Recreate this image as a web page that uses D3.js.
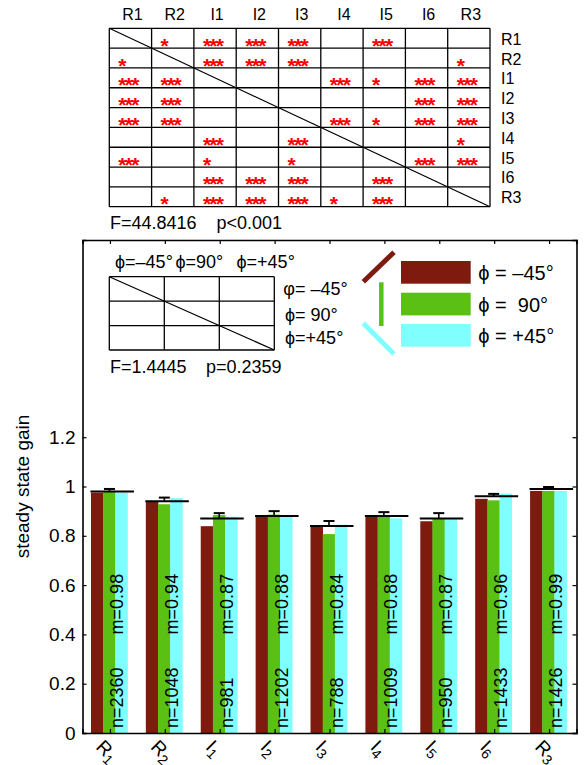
<!DOCTYPE html>
<html>
<head>
<meta charset="utf-8">
<script src="https://cdn.jsdelivr.net/npm/d3@7"></script>
<style>
  body { margin: 0; background: #fff; }
  text { font-family: "Liberation Sans", Arial, sans-serif; fill: #000; }
</style>
</head>
<body>
<script>
// categories (first letter + subscript digit)
const categories = ["R1", "R2", "I1", "I2", "I3", "I4", "I5", "I6", "R3"];

// bar heights for each phi
const phiNeg45 = [0.975, 0.94, 0.839, 0.88, 0.842, 0.877, 0.859, 0.95, 0.982];
const phi90 = [0.98, 0.928, 0.884, 0.886, 0.807, 0.877, 0.868, 0.944, 0.982];
const phiPos45 = [0.975, 0.953, 0.877, 0.877, 0.845, 0.871, 0.868, 0.971, 0.982];

// overall means, upper error ends and counts
const means = [0.98, 0.94, 0.87, 0.88, 0.84, 0.88, 0.87, 0.96, 0.99];
const errTop = [0.99, 0.955, 0.892, 0.90, 0.86, 0.896, 0.892, 0.97, 0.998];
const counts = [2360, 1048, 981, 1202, 788, 1009, 950, 1433, 1426];

const yTicks = [0, 0.2, 0.4, 0.6, 0.8, 1, 1.2];

// significance table: 0 = none, 1 = "*", 3 = "***"
const sig = [
  [0, 1, 3, 3, 3, 0, 3, 0, 0],
  [1, 0, 3, 3, 3, 0, 0, 0, 1],
  [3, 3, 0, 0, 0, 3, 1, 3, 3],
  [3, 3, 0, 0, 0, 0, 0, 3, 3],
  [3, 3, 0, 0, 0, 3, 1, 3, 3],
  [0, 0, 3, 0, 3, 0, 0, 0, 1],
  [3, 0, 1, 0, 1, 0, 0, 3, 3],
  [0, 0, 3, 3, 3, 0, 3, 0, 0],
  [0, 1, 3, 3, 3, 1, 3, 0, 0]
];
const anovaMain = ["F=44.8416", "p<0.001"];
const anovaPhi = ["F=1.4445", "p=0.2359"];

const phiHeads = ["\u03d5=\u201345\u00b0", "\u03d5=90\u00b0", "\u03d5=+45\u00b0"];
const phiRows = ["\u03c6= \u201345\u00b0", "\u03d5= 90\u00b0", "\u03d5=+45\u00b0"];
const legendLabels = ["\u03d5 = \u201345\u00b0", "\u03d5 =  90\u00b0", "\u03d5 = +45\u00b0"];
const colors = ["#7f1a0e", "#5ac114", "#80ffff"];

const svg = d3.select("body")
  .append("svg")
  .attr("width", 584)
  .attr("height", 765);

// ---- top significance table ----
const tx = d3.scaleBand().domain(d3.range(9)).range([109.3, 490]);
const ty = d3.scaleBand().domain(d3.range(9)).range([28.3, 206.7]);
const tab = svg.append("g");

tab.selectAll("line.v")
  .data(d3.range(10))
  .enter()
  .append("line")
  .attr("x1", d => 109.3 + d * tx.bandwidth())
  .attr("x2", d => 109.3 + d * tx.bandwidth())
  .attr("y1", 28.3).attr("y2", 206.7)
  .attr("stroke", "#000").attr("stroke-width", 1.3);
tab.selectAll("line.h")
  .data(d3.range(10))
  .enter()
  .append("line")
  .attr("y1", d => 28.3 + d * ty.bandwidth())
  .attr("y2", d => 28.3 + d * ty.bandwidth())
  .attr("x1", 109.3).attr("x2", 490)
  .attr("stroke", "#000").attr("stroke-width", 1.3);
tab.append("line")
  .attr("x1", 109.3).attr("y1", 28.3).attr("x2", 490).attr("y2", 206.7)
  .attr("stroke", "#000").attr("stroke-width", 1.2);

tab.selectAll("text.col")
  .data(categories)
  .enter()
  .append("text")
  .attr("x", (d, i) => tx(i) + tx.bandwidth() / 2 + 2)
  .attr("y", 20)
  .attr("text-anchor", "middle")
  .attr("font-size", 16)
  .text(d => d);
tab.selectAll("text.row")
  .data(categories)
  .enter()
  .append("text")
  .attr("x", 501)
  .attr("y", (d, i) => ty(i) + ty.bandwidth() / 2 + 6.5)
  .attr("font-size", 16)
  .text(d => d);

const cells = [];
sig.forEach((row, r) => row.forEach((v, c) => { if (v) cells.push({ r, c, v }); }));
tab.selectAll("text.star")
  .data(cells)
  .enter()
  .append("text")
  .attr("x", d => tx(d.c) + 9)
  .attr("y", d => ty(d.r) + ty.bandwidth() / 2 + 14.5)
  .attr("font-family", "DejaVu Sans")
  .attr("font-weight", "bold")
  .attr("font-size", 21)
  .attr("letter-spacing", -1.7)
  .style("fill", "#f00")
  .text(d => "*".repeat(d.v));

svg.append("text").attr("x", 110).attr("y", 229).attr("font-size", 18).text(anovaMain[0]);
svg.append("text").attr("x", 216.5).attr("y", 229).attr("font-size", 18).text(anovaMain[1]);

// ---- main bar chart ----
const x = d3.scaleLinear().domain([0.5, 9.5]).range([82.5, 576.5]);
const y = d3.scaleLinear().domain([0, 2]).range([733, 240]);
const step = x(2) - x(1);
const barW = step * 0.222;
const series = [phiNeg45, phi90, phiPos45];

const bars = svg.append("g");
series.forEach((vals, s) => {
  bars.selectAll("rect.s" + s)
    .data(vals)
    .enter()
    .append("rect")
    .attr("x", (d, i) => x(i + 1) - 1.5 * barW - 0.7 + s * barW)
    .attr("y", d => y(d))
    .attr("width", barW + 0.3)
    .attr("height", d => y(0) - y(d))
    .attr("fill", colors[s]);
});

// mean lines and error bars
bars.selectAll("line.mean")
  .data(means)
  .enter()
  .append("line")
  .attr("x1", (d, i) => x(i + 1) - 19.5)
  .attr("x2", (d, i) => x(i + 1) + 24)
  .attr("y1", d => y(d)).attr("y2", d => y(d))
  .attr("stroke", "#000").attr("stroke-width", 2);
bars.selectAll("line.err")
  .data(errTop)
  .enter()
  .append("line")
  .attr("x1", (d, i) => x(i + 1) - 0.5)
  .attr("x2", (d, i) => x(i + 1) - 0.5)
  .attr("y1", (d, i) => y(means[i]))
  .attr("y2", d => y(d))
  .attr("stroke", "#000").attr("stroke-width", 1.6);
bars.selectAll("line.cap")
  .data(errTop)
  .enter()
  .append("line")
  .attr("x1", (d, i) => x(i + 1) - 6)
  .attr("x2", (d, i) => x(i + 1) + 5)
  .attr("y1", d => y(d)).attr("y2", d => y(d))
  .attr("stroke", "#000").attr("stroke-width", 2);

// labels inside bars
bars.selectAll("text.m")
  .data(means)
  .enter()
  .append("text")
  .attr("transform", (d, i) => `translate(${x(i + 1) + 13},${y(0.4)}) rotate(-90)`)
  .attr("font-size", 18)
  .text(d => "m=" + d.toFixed(2));
bars.selectAll("text.n")
  .data(counts)
  .enter()
  .append("text")
  .attr("transform", (d, i) => `translate(${x(i + 1) + 13},${y(0.02)}) rotate(-90)`)
  .attr("font-size", 18)
  .text(d => "n=" + d);

// axes
const tickFmt = d3.format("~g");
svg.append("g")
  .attr("transform", "translate(82.5,0)")
  .call(d3.axisLeft(y).tickValues(yTicks).tickSize(-4).tickPadding(7).tickFormat(tickFmt))
  .call(g => g.selectAll("text").attr("font-size", 19).attr("font-family", "Liberation Sans").style("fill", "#000"));
svg.append("g")
  .attr("transform", "translate(576.5,0)")
  .call(d3.axisRight(y).tickValues(yTicks).tickSize(-4).tickFormat(""));
svg.append("g")
  .attr("transform", "translate(0,240)")
  .call(d3.axisTop(x).tickValues(d3.range(1, 10)).tickSize(-4).tickFormat(""));
svg.append("g")
  .attr("transform", "translate(0,733)")
  .call(d3.axisBottom(x).tickValues(d3.range(1, 10)).tickSize(-4).tickFormat(""));
svg.selectAll(".domain").attr("stroke-width", 1.6);
svg.selectAll(".tick line").attr("stroke-width", 1.2);

// rotated category labels with subscripts
const xl = svg.selectAll("text.xl")
  .data(categories)
  .enter()
  .append("text")
  .attr("transform", (d, i) => `translate(${x(i + 1) - 15},748) rotate(45)`)
  .attr("font-size", 19);
xl.append("tspan").text(d => d[0]);
xl.append("tspan").attr("font-size", 14).attr("dy", 4).text(d => d.slice(1));

svg.append("text")
  .attr("transform", `translate(29,${y(1)}) rotate(-90)`)
  .attr("text-anchor", "middle")
  .attr("font-size", 19)
  .text("steady state gain");

// ---- phi comparison table inside the plot ----
const px = d3.scaleBand().domain(d3.range(3)).range([109.3, 274.3]);
const py = d3.scaleBand().domain(d3.range(3)).range([276.7, 350]);
const ptab = svg.append("g");
ptab.selectAll("line.v")
  .data(d3.range(4))
  .enter()
  .append("line")
  .attr("x1", d => 109.3 + d * px.bandwidth())
  .attr("x2", d => 109.3 + d * px.bandwidth())
  .attr("y1", 276.7).attr("y2", 350)
  .attr("stroke", "#000").attr("stroke-width", 1.3);
ptab.selectAll("line.h")
  .data(d3.range(4))
  .enter()
  .append("line")
  .attr("y1", d => 276.7 + d * py.bandwidth())
  .attr("y2", d => 276.7 + d * py.bandwidth())
  .attr("x1", 109.3).attr("x2", 274.3)
  .attr("stroke", "#000").attr("stroke-width", 1.3);
ptab.append("line")
  .attr("x1", 109.3).attr("y1", 276.7).attr("x2", 274.3).attr("y2", 350)
  .attr("stroke", "#000").attr("stroke-width", 1.2);

const headX = [115, 175.5, 236.5];
ptab.selectAll("text.head")
  .data(phiHeads)
  .enter()
  .append("text")
  .attr("x", (d, i) => headX[i])
  .attr("y", 268.3)
  .attr("font-size", 18)
  .text(d => d);
const rowY = [295, 320.7, 344.3];
ptab.selectAll("text.prow")
  .data(phiRows)
  .enter()
  .append("text")
  .attr("x", (d, i) => i === 0 ? 283.3 : 285)
  .attr("y", (d, i) => rowY[i])
  .attr("font-size", 18)
  .text(d => d);
svg.append("text").attr("x", 110).attr("y", 372.7).attr("font-size", 18).text(anovaPhi[0]);
svg.append("text").attr("x", 206).attr("y", 372.7).attr("font-size", 18).text(anovaPhi[1]);

// ---- legend ----
const leg = svg.append("g");
const strokes = [
  [[363.3, 281.7], [394, 252.3]],
  [[381.3, 282.3], [381.3, 326]],
  [[363.3, 323.3], [394, 354]]
];
leg.selectAll("line.mark")
  .data(strokes)
  .enter()
  .append("line")
  .attr("x1", d => d[0][0]).attr("y1", d => d[0][1])
  .attr("x2", d => d[1][0]).attr("y2", d => d[1][1])
  .attr("stroke", (d, i) => colors[i])
  .attr("stroke-width", (d, i) => i === 1 ? 4.5 : 5);
const legY = [261, 292.7, 324];
leg.selectAll("rect")
  .data(legendLabels)
  .enter()
  .append("rect")
  .attr("x", 401).attr("width", 69.7)
  .attr("y", (d, i) => legY[i]).attr("height", 22.7)
  .attr("fill", (d, i) => colors[i]);
leg.selectAll("text")
  .data(legendLabels)
  .enter()
  .append("text")
  .attr("x", 478.3)
  .attr("y", (d, i) => legY[i] + 19)
  .attr("font-size", 20)
  .style("white-space", "pre")
  .attr("xml:space", "preserve")
  .text(d => d);
</script>
</body>
</html>
